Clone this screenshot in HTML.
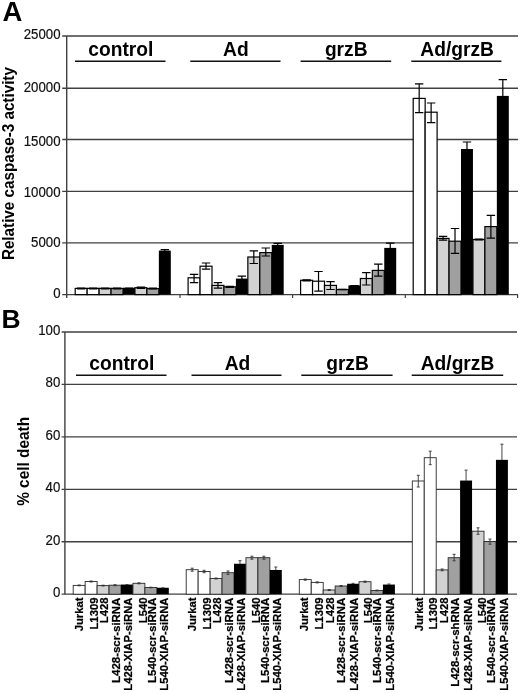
<!DOCTYPE html>
<html><head><meta charset="utf-8"><title>Figure</title>
<style>html,body{margin:0;padding:0;background:#fff}svg{display:block;filter:blur(0.35px)}</style></head>
<body><svg width="520" height="693" viewBox="0 0 520 693">
<rect width="520" height="693" fill="#fff"/>
<line x1="62.2" y1="36.0" x2="518.0" y2="36.0" stroke="#404040" stroke-width="1.35"/>
<line x1="62.2" y1="88.2" x2="518.0" y2="88.2" stroke="#404040" stroke-width="1.35"/>
<line x1="62.2" y1="139.5" x2="518.0" y2="139.5" stroke="#404040" stroke-width="1.35"/>
<line x1="62.2" y1="191.3" x2="518.0" y2="191.3" stroke="#404040" stroke-width="1.35"/>
<line x1="62.2" y1="242.8" x2="518.0" y2="242.8" stroke="#404040" stroke-width="1.35"/>
<line x1="62.2" y1="294.6" x2="518.0" y2="294.6" stroke="#404040" stroke-width="1.3"/>
<line x1="66.7" y1="36.0" x2="66.7" y2="298.1" stroke="#404040" stroke-width="1.4"/>
<line x1="180.0" y1="294.6" x2="180.0" y2="298.1" stroke="#404040" stroke-width="1.2"/>
<line x1="292.6" y1="294.6" x2="292.6" y2="298.1" stroke="#404040" stroke-width="1.2"/>
<line x1="405.3" y1="294.6" x2="405.3" y2="298.1" stroke="#404040" stroke-width="1.2"/>
<line x1="517.6" y1="294.6" x2="517.6" y2="298.1" stroke="#404040" stroke-width="1.2"/>
<text transform="translate(60.5 39.20) scale(0.945 1)" text-anchor="end" font-size="14" font-family="Liberation Sans, Arial, Helvetica, sans-serif" fill="#111" stroke="#111" stroke-width="0.2">25000</text>
<text transform="translate(60.5 91.70) scale(0.945 1)" text-anchor="end" font-size="14" font-family="Liberation Sans, Arial, Helvetica, sans-serif" fill="#111" stroke="#111" stroke-width="0.2">20000</text>
<text transform="translate(60.5 145.60) scale(0.945 1)" text-anchor="end" font-size="14" font-family="Liberation Sans, Arial, Helvetica, sans-serif" fill="#111" stroke="#111" stroke-width="0.2">15000</text>
<text transform="translate(60.5 196.60) scale(0.945 1)" text-anchor="end" font-size="14" font-family="Liberation Sans, Arial, Helvetica, sans-serif" fill="#111" stroke="#111" stroke-width="0.2">10000</text>
<text transform="translate(60.5 247.00) scale(0.945 1)" text-anchor="end" font-size="14" font-family="Liberation Sans, Arial, Helvetica, sans-serif" fill="#111" stroke="#111" stroke-width="0.2">5000</text>
<text transform="translate(60.5 298.10) scale(0.945 1)" text-anchor="end" font-size="14" font-family="Liberation Sans, Arial, Helvetica, sans-serif" fill="#111" stroke="#111" stroke-width="0.2">0</text>
<rect x="75.20" y="288.40" width="11.95" height="6.20" fill="#fff" stroke="#000" stroke-width="1.2"/>
<rect x="87.15" y="288.40" width="11.95" height="6.20" fill="#fff" stroke="#000" stroke-width="1.2"/>
<rect x="99.10" y="288.40" width="11.95" height="6.20" fill="#d2d2d2" stroke="#000" stroke-width="1.2"/>
<rect x="111.05" y="288.40" width="11.95" height="6.20" fill="#a0a0a0" stroke="#000" stroke-width="1.2"/>
<rect x="123.00" y="287.80" width="11.95" height="6.80" fill="#000"/>
<rect x="134.95" y="287.70" width="11.95" height="6.90" fill="#d2d2d2" stroke="#000" stroke-width="1.2"/>
<rect x="146.90" y="288.60" width="11.95" height="6.00" fill="#a0a0a0" stroke="#000" stroke-width="1.2"/>
<rect x="158.85" y="250.60" width="11.95" height="44.00" fill="#000"/>
<path d="M81.17 288.00V288.80M76.97 288.00H85.38M76.97 288.80H85.38" stroke="#000" stroke-width="1.2" fill="none"/>
<path d="M93.12 288.00V288.80M88.92 288.00H97.33M88.92 288.80H97.33" stroke="#000" stroke-width="1.2" fill="none"/>
<path d="M105.07 288.00V288.80M100.87 288.00H109.27M100.87 288.80H109.27" stroke="#000" stroke-width="1.2" fill="none"/>
<path d="M117.02 288.00V288.80M112.82 288.00H121.22M112.82 288.80H121.22" stroke="#000" stroke-width="1.2" fill="none"/>
<path d="M128.97 288.00V288.40M124.77 288.00H133.17" stroke="#000" stroke-width="1.2" fill="none"/>
<path d="M140.92 287.00V288.40M136.72 287.00H145.12M136.72 288.40H145.12" stroke="#000" stroke-width="1.2" fill="none"/>
<path d="M152.87 288.20V289.00M148.67 288.20H157.07M148.67 289.00H157.07" stroke="#000" stroke-width="1.2" fill="none"/>
<path d="M164.82 249.60V251.20M160.62 249.60H169.02" stroke="#000" stroke-width="1.2" fill="none"/>
<rect x="188.10" y="277.80" width="11.95" height="16.80" fill="#fff" stroke="#000" stroke-width="1.2"/>
<rect x="200.05" y="266.20" width="11.95" height="28.40" fill="#fff" stroke="#000" stroke-width="1.2"/>
<rect x="212.00" y="285.40" width="11.95" height="9.20" fill="#d2d2d2" stroke="#000" stroke-width="1.2"/>
<rect x="223.95" y="286.80" width="11.95" height="7.80" fill="#a0a0a0" stroke="#000" stroke-width="1.2"/>
<rect x="235.90" y="278.60" width="11.95" height="16.00" fill="#000"/>
<rect x="247.85" y="257.00" width="11.95" height="37.60" fill="#d2d2d2" stroke="#000" stroke-width="1.2"/>
<rect x="259.80" y="252.60" width="11.95" height="42.00" fill="#a0a0a0" stroke="#000" stroke-width="1.2"/>
<rect x="271.75" y="244.90" width="11.95" height="49.70" fill="#000"/>
<path d="M194.07 274.30V282.60M189.88 274.30H198.27M189.88 282.60H198.27" stroke="#000" stroke-width="1.2" fill="none"/>
<path d="M206.02 263.00V269.20M201.82 263.00H210.22M201.82 269.20H210.22" stroke="#000" stroke-width="1.2" fill="none"/>
<path d="M217.97 282.60V288.20M213.78 282.60H222.17M213.78 288.20H222.17" stroke="#000" stroke-width="1.2" fill="none"/>
<path d="M229.92 286.30V287.40M225.72 286.30H234.12M225.72 287.40H234.12" stroke="#000" stroke-width="1.2" fill="none"/>
<path d="M241.87 276.20V279.20M237.67 276.20H246.07" stroke="#000" stroke-width="1.2" fill="none"/>
<path d="M253.82 250.80V263.50M249.62 250.80H258.02M249.62 263.50H258.02" stroke="#000" stroke-width="1.2" fill="none"/>
<path d="M265.77 248.00V256.00M261.57 248.00H269.97M261.57 256.00H269.97" stroke="#000" stroke-width="1.2" fill="none"/>
<path d="M277.73 243.40V245.50M273.53 243.40H281.93" stroke="#000" stroke-width="1.2" fill="none"/>
<rect x="300.60" y="280.30" width="11.95" height="14.30" fill="#fff" stroke="#000" stroke-width="1.2"/>
<rect x="312.55" y="281.20" width="11.95" height="13.40" fill="#fff" stroke="#000" stroke-width="1.2"/>
<rect x="324.50" y="285.40" width="11.95" height="9.20" fill="#d2d2d2" stroke="#000" stroke-width="1.2"/>
<rect x="336.45" y="289.50" width="11.95" height="5.10" fill="#a0a0a0" stroke="#000" stroke-width="1.2"/>
<rect x="348.40" y="285.40" width="11.95" height="9.20" fill="#000"/>
<rect x="360.35" y="278.50" width="11.95" height="16.10" fill="#d2d2d2" stroke="#000" stroke-width="1.2"/>
<rect x="372.30" y="270.40" width="11.95" height="24.20" fill="#a0a0a0" stroke="#000" stroke-width="1.2"/>
<rect x="384.25" y="247.90" width="11.95" height="46.70" fill="#000"/>
<path d="M306.58 279.80V280.80M302.38 279.80H310.78M302.38 280.80H310.78" stroke="#000" stroke-width="1.2" fill="none"/>
<path d="M318.53 271.50V291.20M314.33 271.50H322.73M314.33 291.20H322.73" stroke="#000" stroke-width="1.2" fill="none"/>
<path d="M330.48 281.70V289.50M326.28 281.70H334.68M326.28 289.50H334.68" stroke="#000" stroke-width="1.2" fill="none"/>
<path d="M342.43 289.30V289.70M338.23 289.30H346.63M338.23 289.70H346.63" stroke="#000" stroke-width="1.2" fill="none"/>
<path d="M354.38 285.50V286.00M350.18 285.50H358.58" stroke="#000" stroke-width="1.2" fill="none"/>
<path d="M366.33 272.70V285.00M362.13 272.70H370.53M362.13 285.00H370.53" stroke="#000" stroke-width="1.2" fill="none"/>
<path d="M378.28 264.20V276.20M374.08 264.20H382.48M374.08 276.20H382.48" stroke="#000" stroke-width="1.2" fill="none"/>
<path d="M390.23 243.20V248.50M386.03 243.20H394.43" stroke="#000" stroke-width="1.2" fill="none"/>
<rect x="413.20" y="98.40" width="11.95" height="196.20" fill="#fff" stroke="#000" stroke-width="1.2"/>
<rect x="425.15" y="112.20" width="11.95" height="182.40" fill="#fff" stroke="#000" stroke-width="1.2"/>
<rect x="437.10" y="238.40" width="11.95" height="56.20" fill="#d2d2d2" stroke="#000" stroke-width="1.2"/>
<rect x="449.05" y="241.20" width="11.95" height="53.40" fill="#a0a0a0" stroke="#000" stroke-width="1.2"/>
<rect x="461.00" y="149.00" width="11.95" height="145.60" fill="#000"/>
<rect x="472.95" y="239.50" width="11.95" height="55.10" fill="#d2d2d2" stroke="#000" stroke-width="1.2"/>
<rect x="484.90" y="226.60" width="11.95" height="68.00" fill="#a0a0a0" stroke="#000" stroke-width="1.2"/>
<rect x="496.85" y="95.90" width="11.95" height="198.70" fill="#000"/>
<path d="M419.18 83.80V112.70M414.98 83.80H423.38M414.98 112.70H423.38" stroke="#000" stroke-width="1.2" fill="none"/>
<path d="M431.12 103.00V122.60M426.93 103.00H435.32M426.93 122.60H435.32" stroke="#000" stroke-width="1.2" fill="none"/>
<path d="M443.07 236.30V240.20M438.88 236.30H447.27M438.88 240.20H447.27" stroke="#000" stroke-width="1.2" fill="none"/>
<path d="M455.02 228.50V253.40M450.82 228.50H459.22M450.82 253.40H459.22" stroke="#000" stroke-width="1.2" fill="none"/>
<path d="M466.98 142.00V149.60M462.78 142.00H471.18" stroke="#000" stroke-width="1.2" fill="none"/>
<path d="M478.93 239.20V239.80M474.73 239.20H483.12M474.73 239.80H483.12" stroke="#000" stroke-width="1.2" fill="none"/>
<path d="M490.88 215.30V238.20M486.68 215.30H495.07M486.68 238.20H495.07" stroke="#000" stroke-width="1.2" fill="none"/>
<path d="M502.82 79.70V96.50M498.62 79.70H507.02" stroke="#000" stroke-width="1.2" fill="none"/>
<text transform="translate(120.8 55.9) scale(0.96 1)" text-anchor="middle" font-size="20" font-weight="bold" font-family="Liberation Sans, Arial, Helvetica, sans-serif" fill="#000">control</text>
<line x1="75" y1="61.2" x2="165.5" y2="61.2" stroke="#111" stroke-width="1.5"/>
<text transform="translate(235.9 55.9) scale(0.96 1)" text-anchor="middle" font-size="20" font-weight="bold" font-family="Liberation Sans, Arial, Helvetica, sans-serif" fill="#000">Ad</text>
<line x1="190.3" y1="61.2" x2="280.5" y2="61.2" stroke="#111" stroke-width="1.5"/>
<text transform="translate(346.2 55.9) scale(0.96 1)" text-anchor="middle" font-size="20" font-weight="bold" font-family="Liberation Sans, Arial, Helvetica, sans-serif" fill="#000">grzB</text>
<line x1="300.6" y1="61.2" x2="391.2" y2="61.2" stroke="#111" stroke-width="1.5"/>
<text transform="translate(457.1 55.9) scale(0.96 1)" text-anchor="middle" font-size="20" font-weight="bold" font-family="Liberation Sans, Arial, Helvetica, sans-serif" fill="#000">Ad/grzB</text>
<line x1="411.3" y1="61.2" x2="501.4" y2="61.2" stroke="#111" stroke-width="1.5"/>
<line x1="61.60000000000001" y1="332.0" x2="517.0" y2="332.0" stroke="#404040" stroke-width="1.35"/>
<line x1="61.60000000000001" y1="384.3" x2="517.0" y2="384.3" stroke="#404040" stroke-width="1.35"/>
<line x1="61.60000000000001" y1="436.8" x2="517.0" y2="436.8" stroke="#404040" stroke-width="1.35"/>
<line x1="61.60000000000001" y1="489.3" x2="517.0" y2="489.3" stroke="#404040" stroke-width="1.35"/>
<line x1="61.60000000000001" y1="541.7" x2="517.0" y2="541.7" stroke="#404040" stroke-width="1.35"/>
<line x1="61.60000000000001" y1="594.2" x2="517.0" y2="594.2" stroke="#404040" stroke-width="1.3"/>
<line x1="64.9" y1="332.0" x2="64.9" y2="594.2" stroke="#404040" stroke-width="1.4"/>
<text transform="translate(60.3 334.70) scale(0.945 1)" text-anchor="end" font-size="14" font-family="Liberation Sans, Arial, Helvetica, sans-serif" fill="#111" stroke="#111" stroke-width="0.2">100</text>
<text transform="translate(60.3 387.20) scale(0.945 1)" text-anchor="end" font-size="14" font-family="Liberation Sans, Arial, Helvetica, sans-serif" fill="#111" stroke="#111" stroke-width="0.2">80</text>
<text transform="translate(60.3 440.20) scale(0.945 1)" text-anchor="end" font-size="14" font-family="Liberation Sans, Arial, Helvetica, sans-serif" fill="#111" stroke="#111" stroke-width="0.2">60</text>
<text transform="translate(60.3 492.00) scale(0.945 1)" text-anchor="end" font-size="14" font-family="Liberation Sans, Arial, Helvetica, sans-serif" fill="#111" stroke="#111" stroke-width="0.2">40</text>
<text transform="translate(60.3 544.80) scale(0.945 1)" text-anchor="end" font-size="14" font-family="Liberation Sans, Arial, Helvetica, sans-serif" fill="#111" stroke="#111" stroke-width="0.2">20</text>
<text transform="translate(60.3 596.50) scale(0.945 1)" text-anchor="end" font-size="14" font-family="Liberation Sans, Arial, Helvetica, sans-serif" fill="#111" stroke="#111" stroke-width="0.2">0</text>
<rect x="73.20" y="585.40" width="11.95" height="8.80" fill="#fff" stroke="#2a2a2a" stroke-width="0.9"/>
<rect x="85.15" y="581.50" width="11.95" height="12.70" fill="#fff" stroke="#2a2a2a" stroke-width="0.9"/>
<rect x="97.10" y="585.60" width="11.95" height="8.60" fill="#d2d2d2" stroke="#2a2a2a" stroke-width="0.9"/>
<rect x="109.05" y="585.20" width="11.95" height="9.00" fill="#a0a0a0" stroke="#2a2a2a" stroke-width="0.9"/>
<rect x="121.00" y="584.55" width="11.95" height="9.65" fill="#000"/>
<rect x="132.95" y="583.30" width="11.95" height="10.90" fill="#d2d2d2" stroke="#2a2a2a" stroke-width="0.9"/>
<rect x="144.90" y="587.50" width="11.95" height="6.70" fill="#a0a0a0" stroke="#2a2a2a" stroke-width="0.9"/>
<rect x="156.85" y="587.75" width="11.95" height="6.45" fill="#000"/>
<path d="M79.17 585.00V585.80M77.67 585.00H80.67M77.67 585.80H80.67" stroke="#333" stroke-width="0.9" fill="none"/>
<path d="M91.12 581.00V582.00M89.62 581.00H92.62M89.62 582.00H92.62" stroke="#333" stroke-width="0.9" fill="none"/>
<path d="M103.07 585.20V586.00M101.57 585.20H104.57M101.57 586.00H104.57" stroke="#333" stroke-width="0.9" fill="none"/>
<path d="M115.02 584.70V585.70M113.52 584.70H116.52M113.52 585.70H116.52" stroke="#333" stroke-width="0.9" fill="none"/>
<path d="M126.97 584.60V585.00M125.47 584.60H128.47" stroke="#333" stroke-width="0.9" fill="none"/>
<path d="M138.92 582.80V583.80M137.42 582.80H140.42M137.42 583.80H140.42" stroke="#333" stroke-width="0.9" fill="none"/>
<path d="M150.87 587.20V587.80M149.37 587.20H152.37M149.37 587.80H152.37" stroke="#333" stroke-width="0.9" fill="none"/>
<path d="M162.82 587.80V588.20M161.32 587.80H164.32" stroke="#333" stroke-width="0.9" fill="none"/>
<rect x="186.20" y="569.70" width="11.95" height="24.50" fill="#fff" stroke="#2a2a2a" stroke-width="0.9"/>
<rect x="198.15" y="571.50" width="11.95" height="22.70" fill="#fff" stroke="#2a2a2a" stroke-width="0.9"/>
<rect x="210.10" y="578.50" width="11.95" height="15.70" fill="#d2d2d2" stroke="#2a2a2a" stroke-width="0.9"/>
<rect x="222.05" y="572.70" width="11.95" height="21.50" fill="#a0a0a0" stroke="#2a2a2a" stroke-width="0.9"/>
<rect x="234.00" y="563.75" width="11.95" height="30.45" fill="#000"/>
<rect x="245.95" y="557.70" width="11.95" height="36.50" fill="#d2d2d2" stroke="#2a2a2a" stroke-width="0.9"/>
<rect x="257.90" y="557.70" width="11.95" height="36.50" fill="#a0a0a0" stroke="#2a2a2a" stroke-width="0.9"/>
<rect x="269.85" y="569.95" width="11.95" height="24.25" fill="#000"/>
<path d="M192.17 568.20V571.20M190.67 568.20H193.67M190.67 571.20H193.67" stroke="#333" stroke-width="0.9" fill="none"/>
<path d="M204.12 570.30V572.70M202.62 570.30H205.62M202.62 572.70H205.62" stroke="#333" stroke-width="0.9" fill="none"/>
<path d="M216.07 578.00V579.00M214.57 578.00H217.57M214.57 579.00H217.57" stroke="#333" stroke-width="0.9" fill="none"/>
<path d="M228.02 571.00V574.40M226.52 571.00H229.52M226.52 574.40H229.52" stroke="#333" stroke-width="0.9" fill="none"/>
<path d="M239.97 560.70V564.20M238.47 560.70H241.47" stroke="#333" stroke-width="0.9" fill="none"/>
<path d="M251.92 556.20V559.20M250.42 556.20H253.42M250.42 559.20H253.42" stroke="#333" stroke-width="0.9" fill="none"/>
<path d="M263.88 556.20V559.20M262.38 556.20H265.38M262.38 559.20H265.38" stroke="#333" stroke-width="0.9" fill="none"/>
<path d="M275.82 567.00V570.40M274.32 567.00H277.32" stroke="#333" stroke-width="0.9" fill="none"/>
<rect x="299.30" y="579.60" width="11.95" height="14.60" fill="#fff" stroke="#2a2a2a" stroke-width="0.9"/>
<rect x="311.25" y="582.40" width="11.95" height="11.80" fill="#fff" stroke="#2a2a2a" stroke-width="0.9"/>
<rect x="323.20" y="590.00" width="11.95" height="4.20" fill="#d2d2d2" stroke="#2a2a2a" stroke-width="0.9"/>
<rect x="335.15" y="586.00" width="11.95" height="8.20" fill="#a0a0a0" stroke="#2a2a2a" stroke-width="0.9"/>
<rect x="347.10" y="583.75" width="11.95" height="10.45" fill="#000"/>
<rect x="359.05" y="581.70" width="11.95" height="12.50" fill="#d2d2d2" stroke="#2a2a2a" stroke-width="0.9"/>
<rect x="371.00" y="590.50" width="11.95" height="3.70" fill="#a0a0a0" stroke="#2a2a2a" stroke-width="0.9"/>
<rect x="382.95" y="584.55" width="11.95" height="9.65" fill="#000"/>
<path d="M305.28 579.00V580.20M303.78 579.00H306.78M303.78 580.20H306.78" stroke="#333" stroke-width="0.9" fill="none"/>
<path d="M317.23 581.90V582.90M315.73 581.90H318.73M315.73 582.90H318.73" stroke="#333" stroke-width="0.9" fill="none"/>
<path d="M329.18 589.50V590.50M327.68 589.50H330.68M327.68 590.50H330.68" stroke="#333" stroke-width="0.9" fill="none"/>
<path d="M341.12 585.50V586.50M339.62 585.50H342.62M339.62 586.50H342.62" stroke="#333" stroke-width="0.9" fill="none"/>
<path d="M353.08 583.30V584.20M351.58 583.30H354.58" stroke="#333" stroke-width="0.9" fill="none"/>
<path d="M365.03 581.10V582.30M363.53 581.10H366.53M363.53 582.30H366.53" stroke="#333" stroke-width="0.9" fill="none"/>
<path d="M376.98 590.10V590.90M375.48 590.10H378.48M375.48 590.90H378.48" stroke="#333" stroke-width="0.9" fill="none"/>
<path d="M388.93 584.00V585.00M387.43 584.00H390.43" stroke="#333" stroke-width="0.9" fill="none"/>
<rect x="412.30" y="481.00" width="11.95" height="113.20" fill="#fff" stroke="#2a2a2a" stroke-width="0.9"/>
<rect x="424.25" y="457.70" width="11.95" height="136.50" fill="#fff" stroke="#2a2a2a" stroke-width="0.9"/>
<rect x="436.20" y="569.90" width="11.95" height="24.30" fill="#d2d2d2" stroke="#2a2a2a" stroke-width="0.9"/>
<rect x="448.15" y="557.70" width="11.95" height="36.50" fill="#a0a0a0" stroke="#2a2a2a" stroke-width="0.9"/>
<rect x="460.10" y="480.55" width="11.95" height="113.65" fill="#000"/>
<rect x="472.05" y="531.20" width="11.95" height="63.00" fill="#d2d2d2" stroke="#2a2a2a" stroke-width="0.9"/>
<rect x="484.00" y="541.60" width="11.95" height="52.60" fill="#a0a0a0" stroke="#2a2a2a" stroke-width="0.9"/>
<rect x="495.95" y="459.85" width="11.95" height="134.35" fill="#000"/>
<path d="M418.28 475.30V487.00M416.78 475.30H419.78M416.78 487.00H419.78" stroke="#333" stroke-width="0.9" fill="none"/>
<path d="M430.23 451.20V464.70M428.73 451.20H431.73M428.73 464.70H431.73" stroke="#333" stroke-width="0.9" fill="none"/>
<path d="M442.18 569.00V570.80M440.68 569.00H443.68M440.68 570.80H443.68" stroke="#333" stroke-width="0.9" fill="none"/>
<path d="M454.12 554.30V560.80M452.62 554.30H455.62M452.62 560.80H455.62" stroke="#333" stroke-width="0.9" fill="none"/>
<path d="M466.08 470.10V481.00M464.58 470.10H467.58" stroke="#333" stroke-width="0.9" fill="none"/>
<path d="M478.03 527.80V534.30M476.53 527.80H479.53M476.53 534.30H479.53" stroke="#333" stroke-width="0.9" fill="none"/>
<path d="M489.98 539.00V544.20M488.48 539.00H491.48M488.48 544.20H491.48" stroke="#333" stroke-width="0.9" fill="none"/>
<path d="M501.93 444.20V460.30M500.43 444.20H503.43" stroke="#333" stroke-width="0.9" fill="none"/>
<text transform="translate(121.8 369.6) scale(0.96 1)" text-anchor="middle" font-size="20" font-weight="bold" font-family="Liberation Sans, Arial, Helvetica, sans-serif" fill="#000">control</text>
<line x1="76" y1="375.3" x2="166.5" y2="375.3" stroke="#111" stroke-width="1.5"/>
<text transform="translate(237.5 369.6) scale(0.96 1)" text-anchor="middle" font-size="20" font-weight="bold" font-family="Liberation Sans, Arial, Helvetica, sans-serif" fill="#000">Ad</text>
<line x1="191.5" y1="375.3" x2="281.5" y2="375.3" stroke="#111" stroke-width="1.5"/>
<text transform="translate(347.5 369.6) scale(0.96 1)" text-anchor="middle" font-size="20" font-weight="bold" font-family="Liberation Sans, Arial, Helvetica, sans-serif" fill="#000">grzB</text>
<line x1="301.3" y1="375.3" x2="392.6" y2="375.3" stroke="#111" stroke-width="1.5"/>
<text transform="translate(457.5 369.6) scale(0.96 1)" text-anchor="middle" font-size="20" font-weight="bold" font-family="Liberation Sans, Arial, Helvetica, sans-serif" fill="#000">Ad/grzB</text>
<line x1="411.7" y1="375.3" x2="503.2" y2="375.3" stroke="#111" stroke-width="1.5"/>
<text transform="translate(83.20 597.6) rotate(-90) scale(0.955 1)" text-anchor="end" font-size="11.8" font-weight="bold" font-family="Liberation Sans, Arial, Helvetica, sans-serif" fill="#000" stroke="#000" stroke-width="0.25">Jurkat</text>
<text transform="translate(97.60 597.6) rotate(-90) scale(0.955 1)" text-anchor="end" font-size="11.8" font-weight="bold" font-family="Liberation Sans, Arial, Helvetica, sans-serif" fill="#000" stroke="#000" stroke-width="0.25">L1309</text>
<text transform="translate(108.40 597.6) rotate(-90) scale(0.955 1)" text-anchor="end" font-size="11.8" font-weight="bold" font-family="Liberation Sans, Arial, Helvetica, sans-serif" fill="#000" stroke="#000" stroke-width="0.25">L428</text>
<text transform="translate(119.60 597.6) rotate(-90) scale(0.972 1)" text-anchor="end" font-size="11.8" font-weight="bold" font-family="Liberation Sans, Arial, Helvetica, sans-serif" fill="#000" stroke="#000" stroke-width="0.25">L428-scr-siRNA</text>
<text transform="translate(132.40 597.6) rotate(-90) scale(0.955 1)" text-anchor="end" font-size="11.8" font-weight="bold" font-family="Liberation Sans, Arial, Helvetica, sans-serif" fill="#000" stroke="#000" stroke-width="0.25">L428-XIAP-siRNA</text>
<text transform="translate(147.00 597.6) rotate(-90) scale(0.955 1)" text-anchor="end" font-size="11.8" font-weight="bold" font-family="Liberation Sans, Arial, Helvetica, sans-serif" fill="#000" stroke="#000" stroke-width="0.25">L540</text>
<text transform="translate(156.00 597.6) rotate(-90) scale(0.972 1)" text-anchor="end" font-size="11.8" font-weight="bold" font-family="Liberation Sans, Arial, Helvetica, sans-serif" fill="#000" stroke="#000" stroke-width="0.25">L540-scr-siRNA</text>
<text transform="translate(168.40 597.6) rotate(-90) scale(0.955 1)" text-anchor="end" font-size="11.8" font-weight="bold" font-family="Liberation Sans, Arial, Helvetica, sans-serif" fill="#000" stroke="#000" stroke-width="0.25">L540-XIAP-siRNA</text>
<text transform="translate(196.20 597.6) rotate(-90) scale(0.955 1)" text-anchor="end" font-size="11.8" font-weight="bold" font-family="Liberation Sans, Arial, Helvetica, sans-serif" fill="#000" stroke="#000" stroke-width="0.25">Jurkat</text>
<text transform="translate(210.60 597.6) rotate(-90) scale(0.955 1)" text-anchor="end" font-size="11.8" font-weight="bold" font-family="Liberation Sans, Arial, Helvetica, sans-serif" fill="#000" stroke="#000" stroke-width="0.25">L1309</text>
<text transform="translate(221.40 597.6) rotate(-90) scale(0.955 1)" text-anchor="end" font-size="11.8" font-weight="bold" font-family="Liberation Sans, Arial, Helvetica, sans-serif" fill="#000" stroke="#000" stroke-width="0.25">L428</text>
<text transform="translate(232.60 597.6) rotate(-90) scale(0.972 1)" text-anchor="end" font-size="11.8" font-weight="bold" font-family="Liberation Sans, Arial, Helvetica, sans-serif" fill="#000" stroke="#000" stroke-width="0.25">L428-scr-siRNA</text>
<text transform="translate(245.40 597.6) rotate(-90) scale(0.955 1)" text-anchor="end" font-size="11.8" font-weight="bold" font-family="Liberation Sans, Arial, Helvetica, sans-serif" fill="#000" stroke="#000" stroke-width="0.25">L428-XIAP-siRNA</text>
<text transform="translate(260.00 597.6) rotate(-90) scale(0.955 1)" text-anchor="end" font-size="11.8" font-weight="bold" font-family="Liberation Sans, Arial, Helvetica, sans-serif" fill="#000" stroke="#000" stroke-width="0.25">L540</text>
<text transform="translate(269.00 597.6) rotate(-90) scale(0.972 1)" text-anchor="end" font-size="11.8" font-weight="bold" font-family="Liberation Sans, Arial, Helvetica, sans-serif" fill="#000" stroke="#000" stroke-width="0.25">L540-scr-siRNA</text>
<text transform="translate(281.40 597.6) rotate(-90) scale(0.955 1)" text-anchor="end" font-size="11.8" font-weight="bold" font-family="Liberation Sans, Arial, Helvetica, sans-serif" fill="#000" stroke="#000" stroke-width="0.25">L540-XIAP-siRNA</text>
<text transform="translate(308.30 597.6) rotate(-90) scale(0.955 1)" text-anchor="end" font-size="11.8" font-weight="bold" font-family="Liberation Sans, Arial, Helvetica, sans-serif" fill="#000" stroke="#000" stroke-width="0.25">Jurkat</text>
<text transform="translate(322.70 597.6) rotate(-90) scale(0.955 1)" text-anchor="end" font-size="11.8" font-weight="bold" font-family="Liberation Sans, Arial, Helvetica, sans-serif" fill="#000" stroke="#000" stroke-width="0.25">L1309</text>
<text transform="translate(333.50 597.6) rotate(-90) scale(0.955 1)" text-anchor="end" font-size="11.8" font-weight="bold" font-family="Liberation Sans, Arial, Helvetica, sans-serif" fill="#000" stroke="#000" stroke-width="0.25">L428</text>
<text transform="translate(344.70 597.6) rotate(-90) scale(0.972 1)" text-anchor="end" font-size="11.8" font-weight="bold" font-family="Liberation Sans, Arial, Helvetica, sans-serif" fill="#000" stroke="#000" stroke-width="0.25">L428-scr-siRNA</text>
<text transform="translate(357.50 597.6) rotate(-90) scale(0.955 1)" text-anchor="end" font-size="11.8" font-weight="bold" font-family="Liberation Sans, Arial, Helvetica, sans-serif" fill="#000" stroke="#000" stroke-width="0.25">L428-XIAP-siRNA</text>
<text transform="translate(372.10 597.6) rotate(-90) scale(0.955 1)" text-anchor="end" font-size="11.8" font-weight="bold" font-family="Liberation Sans, Arial, Helvetica, sans-serif" fill="#000" stroke="#000" stroke-width="0.25">L540</text>
<text transform="translate(381.10 597.6) rotate(-90) scale(0.972 1)" text-anchor="end" font-size="11.8" font-weight="bold" font-family="Liberation Sans, Arial, Helvetica, sans-serif" fill="#000" stroke="#000" stroke-width="0.25">L540-scr-siRNA</text>
<text transform="translate(393.50 597.6) rotate(-90) scale(0.955 1)" text-anchor="end" font-size="11.8" font-weight="bold" font-family="Liberation Sans, Arial, Helvetica, sans-serif" fill="#000" stroke="#000" stroke-width="0.25">L540-XIAP-siRNA</text>
<text transform="translate(422.50 597.6) rotate(-90) scale(0.955 1)" text-anchor="end" font-size="11.8" font-weight="bold" font-family="Liberation Sans, Arial, Helvetica, sans-serif" fill="#000" stroke="#000" stroke-width="0.25">Jurkat</text>
<text transform="translate(436.90 597.6) rotate(-90) scale(0.955 1)" text-anchor="end" font-size="11.8" font-weight="bold" font-family="Liberation Sans, Arial, Helvetica, sans-serif" fill="#000" stroke="#000" stroke-width="0.25">L1309</text>
<text transform="translate(447.70 597.6) rotate(-90) scale(0.955 1)" text-anchor="end" font-size="11.8" font-weight="bold" font-family="Liberation Sans, Arial, Helvetica, sans-serif" fill="#000" stroke="#000" stroke-width="0.25">L428</text>
<text transform="translate(458.90 597.6) rotate(-90) scale(0.972 1)" text-anchor="end" font-size="11.8" font-weight="bold" font-family="Liberation Sans, Arial, Helvetica, sans-serif" fill="#000" stroke="#000" stroke-width="0.25">L428-scr-shRNA</text>
<text transform="translate(471.70 597.6) rotate(-90) scale(0.955 1)" text-anchor="end" font-size="11.8" font-weight="bold" font-family="Liberation Sans, Arial, Helvetica, sans-serif" fill="#000" stroke="#000" stroke-width="0.25">L428-XIAP-siRNA</text>
<text transform="translate(486.30 597.6) rotate(-90) scale(0.955 1)" text-anchor="end" font-size="11.8" font-weight="bold" font-family="Liberation Sans, Arial, Helvetica, sans-serif" fill="#000" stroke="#000" stroke-width="0.25">L540</text>
<text transform="translate(495.30 597.6) rotate(-90) scale(0.972 1)" text-anchor="end" font-size="11.8" font-weight="bold" font-family="Liberation Sans, Arial, Helvetica, sans-serif" fill="#000" stroke="#000" stroke-width="0.25">L540-scr-siRNA</text>
<text transform="translate(507.70 597.6) rotate(-90) scale(0.955 1)" text-anchor="end" font-size="11.8" font-weight="bold" font-family="Liberation Sans, Arial, Helvetica, sans-serif" fill="#000" stroke="#000" stroke-width="0.25">L540-XIAP-siRNA</text>
<text transform="translate(13.5 163.6) rotate(-90) scale(0.935 1)" text-anchor="middle" font-size="16.3" font-weight="bold" font-family="Liberation Sans, Arial, Helvetica, sans-serif" fill="#000">Relative caspase-3 activity</text>
<text transform="translate(29.3 461.4) rotate(-90) scale(0.945 1)" text-anchor="middle" font-size="16.3" font-weight="bold" font-family="Liberation Sans, Arial, Helvetica, sans-serif" fill="#000">% cell death</text>
<text x="2.6" y="20.6" font-size="27.5" font-weight="bold" font-family="Liberation Sans, Arial, Helvetica, sans-serif" fill="#000">A</text>
<text x="1.5" y="327.6" font-size="26.5" font-weight="bold" font-family="Liberation Sans, Arial, Helvetica, sans-serif" fill="#000">B</text>
</svg></body></html>
